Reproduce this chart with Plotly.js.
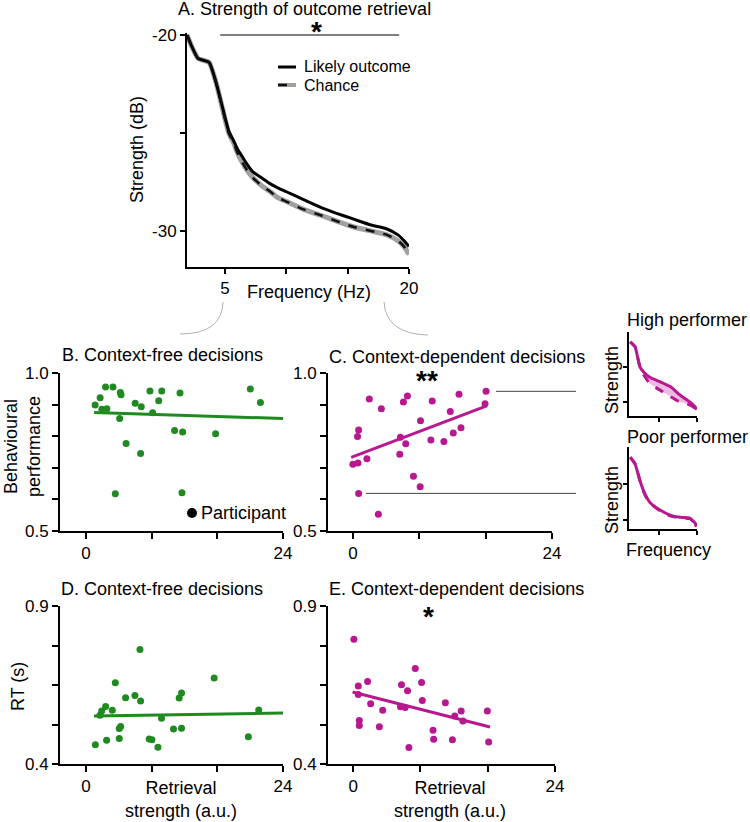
<!DOCTYPE html>
<html><head><meta charset="utf-8">
<script src="https://cdn.plot.ly/plotly-3.0.1.min.js"></script>
<style>html,body{margin:0;padding:0;background:#fff}#chart{width:750px;height:822px}</style>
</head><body><div id="chart"></div>
<script>
// ---------- Panel A: strength of outcome retrieval ----------
const freqA   = [1.9, 2.3, 2.8, 3.7, 4.3, 5.0, 5.3, 5.7, 6.0, 6.4, 6.8, 7.3, 8.0, 8.7, 9.3, 10.0, 11.4, 12.8, 14.1, 15.5, 16.9, 18.2, 19.1, 19.6, 20.0];
const likelyA = [-20.0, -20.6, -21.2, -21.4, -22.5, -24.2, -24.9, -25.4, -25.8, -26.2, -26.6, -27.0, -27.3, -27.6, -27.8, -28.0, -28.4, -28.8, -29.1, -29.4, -29.7, -29.9, -30.2, -30.5, -30.8];
const chanceA = [-20.0, -20.6, -21.2, -21.4, -22.5, -24.3, -25.0, -25.5, -26.0, -26.5, -26.9, -27.3, -27.7, -28.0, -28.3, -28.5, -28.9, -29.2, -29.5, -29.8, -30.0, -30.2, -30.5, -30.8, -31.2];
const sigRangeA = [4.6, 19.2];
const legendA = ['Likely outcome', 'Chance'];

// ---------- Panel B: context-free decisions, performance ----------
const bX = [1.11, 1.72, 1.93, 2.54, 2.38, 3.28, 3.57, 4.18, 4.27, 4.10, 4.88, 5.99, 6.65, 6.73, 7.79, 8.12, 8.86, 9.23, 10.79, 11.45, 11.77, 11.69, 15.79, 20.02, 21.25];
const bY = [0.899, 0.922, 0.885, 0.887, 0.956, 0.956, 0.618, 0.938, 0.931, 0.856, 0.777, 0.904, 0.745, 0.893, 0.943, 0.874, 0.912, 0.943, 0.818, 0.937, 0.813, 0.621, 0.808, 0.949, 0.907];
const fitBx = [0.98, 24.0];
const fitBy = [0.875, 0.856];

// ---------- Panel C: context-dependent decisions, performance ----------
const cX = [0.0, 0.61, 0.56, 0.69, 0.69, 1.69, 1.98, 3.07, 3.43, 5.65, 5.73, 6.09, 6.37, 6.57, 7.30, 8.11, 8.15, 9.40, 9.56, 10.97, 11.74, 12.10, 12.79, 13.03, 15.93, 16.05];
const cY = [0.711, 0.715, 0.799, 0.820, 0.619, 0.729, 0.918, 0.553, 0.887, 0.743, 0.797, 0.908, 0.776, 0.927, 0.673, 0.640, 0.849, 0.788, 0.911, 0.783, 0.878, 0.810, 0.933, 0.827, 0.903, 0.942];
const fitCx = [-0.2, 16.13];
const fitCy = [0.733, 0.896];
const highPerformerY = 0.942;
const poorPerformerY = 0.619;

// ---------- Panel D: context-free decisions, RT ----------
const dX = [1.14, 1.70, 1.91, 2.39, 2.51, 3.20, 3.57, 4.05, 4.22, 4.05, 4.82, 5.96, 6.57, 6.65, 7.70, 8.03, 8.76, 9.20, 10.66, 11.35, 11.64, 11.64, 15.61, 19.78, 21.04];
const dY = [0.461, 0.554, 0.568, 0.582, 0.475, 0.570, 0.657, 0.512, 0.519, 0.481, 0.610, 0.617, 0.762, 0.599, 0.479, 0.477, 0.453, 0.545, 0.511, 0.609, 0.625, 0.513, 0.672, 0.486, 0.571];
const fitDx = [0.97, 24.0];
const fitDy = [0.552, 0.561];

// ---------- Panel E: context-dependent decisions, RT ----------
const eX = [0.08, 0.60, 0.60, 0.72, 0.72, 1.71, 2.07, 3.11, 3.51, 5.74, 5.62, 6.18, 6.46, 6.62, 7.38, 8.13, 8.21, 9.49, 9.57, 10.96, 11.80, 12.08, 12.84, 13.04, 15.95, 16.11];
const eY = [0.795, 0.647, 0.620, 0.538, 0.522, 0.661, 0.591, 0.518, 0.570, 0.651, 0.581, 0.579, 0.632, 0.452, 0.702, 0.658, 0.601, 0.507, 0.478, 0.594, 0.477, 0.552, 0.568, 0.536, 0.568, 0.470];
const fitEx = [-0.08, 16.27];
const fitEy = [0.628, 0.517];

// ---------- Insets ----------
const freqIn      = [2.3, 3.6, 4.9, 6.2, 7.6, 10.2, 12.9, 15.5, 18.1, 19.5, 19.8];
const highLikely  = [-21.4, -22.1, -25.0, -25.9, -26.5, -27.1, -27.8, -29.0, -30.0, -30.7, -31.1];
const highChance  = [-21.4, -22.1, -25.0, -26.4, -27.4, -28.3, -29.2, -30.0, -30.4, -30.9, -31.2];
const poorLikely  = [-21.4, -22.3, -24.6, -26.4, -27.6, -28.6, -29.3, -29.6, -29.7, -30.4, -30.9];
const poorChance  = [-21.4, -22.3, -24.6, -26.5, -27.7, -28.7, -29.4, -29.7, -29.8, -30.5, -31.0];

// ---------- Tick labels ----------
const tickA_x = [5, 10, 15, 20],  tickA_xText = ['5', '', '', '20'];
const tickA_y = [-30, -25, -20],  tickA_yText = ['-30', '', '-20'];
const tickStr = [0, 8, 16, 24],   tickStrText = ['0', '', '', '24'];
const tickPerf = [0.5, 0.6, 0.7, 0.8, 0.9, 1.0], tickPerfText = ['0.5', '', '', '', '', '1.0'];
const tickRT = [0.4, 0.525, 0.65, 0.775, 0.9],   tickRTText = ['0.4', '', '', '', '0.9'];

// ---------- Styling / layout ----------
const W = 750, H = 822;
const px = x => x / W;
const py = y => 1 - y / H;
const FONT = 'Liberation Sans, Arial, Helvetica, sans-serif';
const GREEN = '#1f8a1f';
const MAG = '#b8188f';
const MAGFILL = 'rgba(225,130,200,0.55)';

function ax(extra) {
  return Object.assign({
    showline: true, linewidth: 2, linecolor: '#000', mirror: false,
    ticks: 'outside', ticklen: 6, tickwidth: 2, tickcolor: '#000',
    showgrid: false, zeroline: false, fixedrange: true,
    tickfont: {family: FONT, size: 17, color: '#000'}
  }, extra);
}

const traces = [
  // Panel A
  {x: freqA, y: chanceA, xaxis: 'x', yaxis: 'y', mode: 'lines', showlegend: false, hoverinfo: 'skip',
   line: {color: '#a0a0a0', width: 5, shape: 'spline', smoothing: 0.5}},
  {x: freqA, y: likelyA, xaxis: 'x', yaxis: 'y', mode: 'lines', name: legendA[0], showlegend: false,
   line: {color: '#000', width: 3, shape: 'spline', smoothing: 0.5}},
  {x: freqA, y: chanceA, xaxis: 'x', yaxis: 'y', mode: 'lines', name: legendA[1], showlegend: false,
   line: {color: '#111', width: 2.5, dash: 'dash', shape: 'spline', smoothing: 0.5}},
  // Panel B
  {x: bX, y: bY, xaxis: 'x2', yaxis: 'y2', mode: 'markers', showlegend: false,
   marker: {color: GREEN, size: 7}},
  {x: fitBx, y: fitBy, xaxis: 'x2', yaxis: 'y2', mode: 'lines', showlegend: false,
   line: {color: GREEN, width: 3}},
  // Panel C
  {x: cX, y: cY, xaxis: 'x3', yaxis: 'y3', mode: 'markers', showlegend: false,
   marker: {color: MAG, size: 7}},
  {x: fitCx, y: fitCy, xaxis: 'x3', yaxis: 'y3', mode: 'lines', showlegend: false,
   line: {color: MAG, width: 3}},
  // Panel D
  {x: dX, y: dY, xaxis: 'x4', yaxis: 'y4', mode: 'markers', showlegend: false,
   marker: {color: GREEN, size: 7}},
  {x: fitDx, y: fitDy, xaxis: 'x4', yaxis: 'y4', mode: 'lines', showlegend: false,
   line: {color: GREEN, width: 3}},
  // Panel E
  {x: eX, y: eY, xaxis: 'x5', yaxis: 'y5', mode: 'markers', showlegend: false,
   marker: {color: MAG, size: 7}},
  {x: fitEx, y: fitEy, xaxis: 'x5', yaxis: 'y5', mode: 'lines', showlegend: false,
   line: {color: MAG, width: 3}},
  // High performer inset
  {x: freqIn, y: highChance, xaxis: 'x6', yaxis: 'y6', mode: 'lines', showlegend: false,
   line: {color: MAG, width: 3, dash: 'dash', shape: 'spline', smoothing: 0.5}},
  {x: freqIn, y: highLikely, xaxis: 'x6', yaxis: 'y6', mode: 'lines', showlegend: false,
   fill: 'tonexty', fillcolor: MAGFILL, line: {color: MAG, width: 3, shape: 'spline', smoothing: 0.5}},
  // Poor performer inset
  {x: freqIn, y: poorChance, xaxis: 'x7', yaxis: 'y7', mode: 'lines', showlegend: false,
   line: {color: MAG, width: 3, dash: 'dash', shape: 'spline', smoothing: 0.5}},
  {x: freqIn, y: poorLikely, xaxis: 'x7', yaxis: 'y7', mode: 'lines', showlegend: false,
   fill: 'tonexty', fillcolor: MAGFILL, line: {color: MAG, width: 3, shape: 'spline', smoothing: 0.5}}
];

function ann(text, x, y, opts) {
  return Object.assign({text: text, x: px(x), y: py(y), xref: 'paper', yref: 'paper',
    showarrow: false, xanchor: 'center', yanchor: 'middle',
    font: {family: FONT, size: 18, color: '#000'}}, opts || {});
}
const STAR = {family: FONT, size: 28, color: '#000'};
const LEGFONT = {family: FONT, size: 16, color: '#000'};

const annotations = [
  ann('A. Strength of outcome retrieval', 304, 9),
  ann('Strength (dB)', 137, 150, {textangle: -90}),
  ann('Frequency (Hz)', 309, 292),
  ann(legendA[0], 302, 67, {xanchor: 'left', font: LEGFONT}),
  ann(legendA[1], 302, 86, {xanchor: 'left', font: LEGFONT}),
  ann('B. Context-free decisions', 162, 355),
  ann('C. Context-dependent decisions', 457, 357),
  ann('D. Context-free decisions', 162, 589),
  ann('E. Context-dependent decisions', 457, 589),
  ann('Behavioural<br>performance', 23, 447, {textangle: -90}),
  ann('Participant', 199, 513, {xanchor: 'left'}),
  ann('RT (s)', 18, 687, {textangle: -90}),
  ann('Retrieval<br>strength (a.u.)', 181, 799),
  ann('Retrieval<br>strength (a.u.)', 450, 799),
  ann('High performer', 687, 320),
  ann('Poor performer', 687, 437),
  ann('Strength', 612, 380, {textangle: -90}),
  ann('Strength', 612, 500, {textangle: -90}),
  ann('Frequency', 668, 550),
  ann('<b>*</b>', 316, 32, {font: STAR}),
  ann('<b>**</b>', 427, 381, {font: STAR}),
  ann('<b>*</b>', 428, 616, {font: STAR})
];

const shapes = [
  // significance bar in A
  {type: 'line', xref: 'x', yref: 'paper', x0: sigRangeA[0], x1: sigRangeA[1], y0: py(35), y1: py(35),
   line: {color: '#000', width: 1.2}},
  // legend samples in A
  {type: 'line', xref: 'paper', yref: 'paper', x0: px(278), x1: px(296), y0: py(67), y1: py(67),
   line: {color: '#000', width: 3}},
  {type: 'line', xref: 'paper', yref: 'paper', x0: px(278), x1: px(296), y0: py(85), y1: py(85),
   line: {color: '#a0a0a0', width: 4}},
  {type: 'line', xref: 'paper', yref: 'paper', x0: px(278), x1: px(296), y0: py(85), y1: py(85),
   line: {color: '#111', width: 2.5, dash: 'dash'}},
  // participant marker key in B
  {type: 'circle', xref: 'paper', yref: 'paper', x0: px(187), x1: px(197), y0: py(508), y1: py(518),
   fillcolor: '#000', line: {width: 0}},
  // connector arcs from A to B / C
  {type: 'path', xref: 'paper', yref: 'paper',
   path: `M ${px(223)} ${py(302)} Q ${px(222)} ${py(334)} ${px(180)} ${py(334)}`,
   line: {color: '#b0b0b0', width: 1}},
  {type: 'path', xref: 'paper', yref: 'paper',
   path: `M ${px(384)} ${py(302)} Q ${px(386)} ${py(334)} ${px(428)} ${py(335)}`,
   line: {color: '#b0b0b0', width: 1}},
  // pointer lines from C to insets
  {type: 'line', xref: 'paper', yref: 'y3', x0: px(496), x1: px(576), y0: highPerformerY, y1: highPerformerY,
   line: {color: '#444', width: 1}},
  {type: 'line', xref: 'paper', yref: 'y3', x0: px(366), x1: px(576), y0: poorPerformerY, y1: poorPerformerY,
   line: {color: '#444', width: 1}}
];

const layout = {
  width: W, height: H,
  margin: {l: 0, r: 0, t: 0, b: 0},
  paper_bgcolor: '#fff', plot_bgcolor: 'rgba(0,0,0,0)',
  font: {family: FONT, size: 17, color: '#000'},
  showlegend: false,
  xaxis: ax({domain: [px(187), px(409)], range: [1.9, 20], anchor: 'y',
             tickvals: tickA_x, ticktext: tickA_xText, ticklen: 5}),
  yaxis: ax({domain: [py(267), py(33)], range: [-31.84, -19.9], anchor: 'x',
             tickvals: tickA_y, ticktext: tickA_yText, ticklen: 5}),
  xaxis2: ax({domain: [px(60), px(283)], range: [-3.17, 24], anchor: 'y2',
              tickvals: tickStr, ticktext: tickStrText}),
  yaxis2: ax({domain: [py(531), py(373)], range: [0.5, 1.0], anchor: 'x2',
              tickvals: tickPerf, ticktext: tickPerfText}),
  xaxis3: ax({domain: [px(328), px(552)], range: [-3.0, 24], anchor: 'y3',
              tickvals: tickStr, ticktext: tickStrText}),
  yaxis3: ax({domain: [py(531), py(373)], range: [0.5, 1.0], anchor: 'x3',
              tickvals: tickPerf, ticktext: tickPerfText}),
  xaxis4: ax({domain: [px(60), px(283)], range: [-3.17, 24], anchor: 'y4',
              tickvals: tickStr, ticktext: tickStrText}),
  yaxis4: ax({domain: [py(764), py(606)], range: [0.4, 0.9], anchor: 'x4',
              tickvals: tickRT, ticktext: tickRTText}),
  xaxis5: ax({domain: [px(328), px(555)], range: [-3.0, 24], anchor: 'y5',
              tickvals: tickStr, ticktext: tickStrText}),
  yaxis5: ax({domain: [py(764), py(606)], range: [0.4, 0.9], anchor: 'x5',
              tickvals: tickRT, ticktext: tickRTText}),
  xaxis6: ax({domain: [px(629), px(697)], range: [2, 20], anchor: 'y6',
              tickvals: [10, 20], showticklabels: false, ticklen: 4}),
  yaxis6: ax({domain: [py(416), py(332)], range: [-32, -20], anchor: 'x6',
              tickvals: [-25, -30], showticklabels: false, ticklen: 4}),
  xaxis7: ax({domain: [px(629), px(697)], range: [2, 20], anchor: 'y7',
              tickvals: [10, 20], showticklabels: false, ticklen: 4}),
  yaxis7: ax({domain: [py(529), py(447)], range: [-31.2, -20], anchor: 'x7',
              tickvals: [-25, -30], showticklabels: false, ticklen: 4}),
  annotations: annotations,
  shapes: shapes
};

Plotly.newPlot('chart', traces, layout, {staticPlot: true, displayModeBar: false});
</script></body></html>
